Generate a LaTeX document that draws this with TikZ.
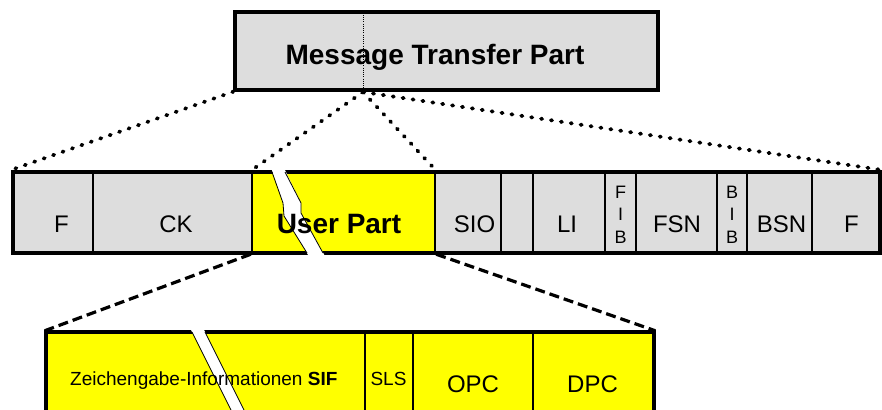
\documentclass[tikz,border=0pt]{standalone}
\usepackage{fontspec}
\setmainfont{Liberation Sans}
\definecolor{cellgray}{RGB}{221,221,221}
\definecolor{ylw}{RGB}{255,255,0}
\begin{document}
\begin{tikzpicture}[x=1pt,y=-1pt,
  cell/.style={draw=black, line width=2.2pt, fill=cellgray, inner sep=0pt, minimum height=81pt},
  ycell/.style={draw=black, line width=2.5pt, fill=ylw, inner sep=0pt},
  frame/.style={draw=black, line width=4pt, inner sep=0pt, fill=none},
  lbl/.style={anchor=base, inner sep=0pt, text=black},
  bigb/.style={font=\fontsize{28}{34}\selectfont\bfseries},
  mid/.style={font=\fontsize{24}{29}\selectfont},
  tiny/.style={font=\fontsize{18}{20}\selectfont},
  small/.style={font=\fontsize{19}{23}\selectfont},
  dotline/.style={line width=3.8pt, line cap=round, dash pattern=on 1.2pt off 8.8pt},
  dashline/.style={line width=3.2pt, dash pattern=on 10pt off 5pt},
  gapedge/.style={line width=0.8pt, draw=black},
]
\clip (0,0) rectangle (882,409);
\fill[white] (0,0) rectangle (882,409);

% top box
\node[draw=black, line width=3.3pt, fill=cellgray, inner sep=0pt,
      minimum width=423pt, minimum height=78pt] (mtp) at (446.5,51) {};
\coordinate (mtpsplit) at (363,92);
\draw[line width=0.8pt, dash pattern=on 1pt off 1.2pt] (mtp.north -| mtpsplit) -- (mtpsplit);

% middle bar
\foreach \nm/\a/\b in {f1/13/93, ck/93/252, sio/435/501, sp/501/533, li/533/605,
                       fib/605/636, fsn/636/717, bib/717/747, bsn/747/812, f2/812/880}
  \node[cell, minimum width={(\b-\a)*1pt}] (\nm) at ({(\a+\b)/2},212.5) {};
\node[ycell, minimum width=183pt, minimum height=81pt] (up) at (343.5,212.5) {};
\node[frame, minimum width=867pt, minimum height=81pt] (bar) at (446.5,212.5) {};

% lower box
\foreach \nm/\a/\b in {zi/46/365, sls/365/413, opc/413/533, dpc/533/654}
  \node[ycell, minimum width={(\b-\a)*1pt}, minimum height=108pt] (\nm) at ({(\a+\b)/2},386) {};
\node[draw=black, line width=3.3pt, inner sep=0pt, minimum width=608pt, minimum height=108pt] (low) at (350,386) {};

% breaks
\fill[white] (270.5,166) -- (283,203) -- (284,216) -- (310,258) -- (326,258)
  -- (301,213) -- (301,203) -- (283,166) -- cycle;
\draw[gapedge] (272,172) -- (283,203) -- (284,216) -- (307,253);
\draw[gapedge] (285,172) -- (301,203) -- (301,213) -- (323,253);
\fill[white] (190,328) -- (203,328) -- (261.5,445) -- (248.5,445) -- cycle;
\draw[gapedge] (192,332) -- (248.5,445);
\draw[gapedge] (205,332) -- (261.5,445);

% connectors
\draw[dotline] (mtp.south west) -- (bar.north west);
\draw[dotline] (mtpsplit) -- (up.north west);
\draw[dotline] (mtpsplit) -- (up.north east);
\draw[dotline] (mtpsplit) -- (bar.north east);
\draw[dashline] (up.south west) -- (zi.north west);
\draw[dashline] (up.south east) -- (dpc.north east);

% texts
\node[lbl, bigb] (tmtp) at (435,65) {Message Transfer Part};
\node[lbl, mid] (tf1) at (61.5,232) {F};
\node[lbl, mid] (tck) at (176,232) {CK};
\node[lbl, bigb] (tup) at (339,233) {User Part};
\node[lbl, mid] (tsio) at (474.5,232) {SIO};
\node[lbl, mid] (tli) at (567,232) {LI};
\node[lbl, tiny] (tfibF) at (620.5,198) {F};
\node[lbl, tiny] (tfibI) at (620.5,220) {I};
\node[lbl, tiny] (tfibB) at (620.5,243) {B};
\node[lbl, mid] (tfsn) at (677,232) {FSN};
\node[lbl, tiny] (tbibB) at (732,198) {B};
\node[lbl, tiny] (tbibI) at (732,220) {I};
\node[lbl, tiny] (tbibB2) at (732,243) {B};
\node[lbl, mid] (tbsn) at (781.5,232) {BSN};
\node[lbl, mid] (tf2) at (851.5,232) {F};
\node[lbl, small, anchor=base west] (tzi) at (70,385) {Zeichengabe-Informationen \textbf{SIF}};
\node[lbl, small] (tsls) at (388.5,385) {SLS};
\node[lbl, mid] (topc) at (473,392) {OPC};
\node[lbl, mid] (tdpc) at (592.5,392) {DPC};
\end{tikzpicture}
\end{document}
